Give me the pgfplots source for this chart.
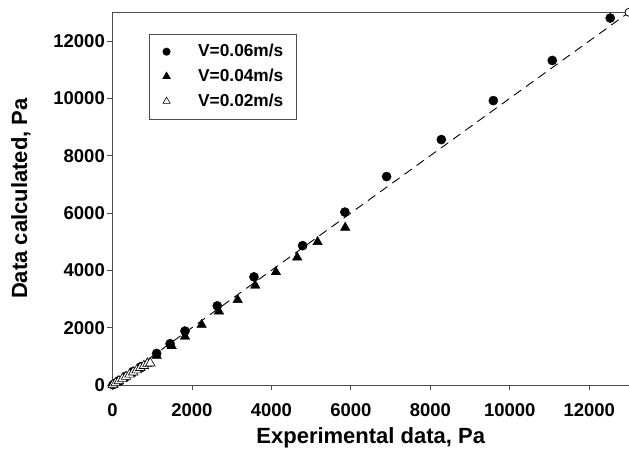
\documentclass[border=0pt]{standalone}
\usepackage{fontspec}
\setmainfont{Liberation Sans}
\usepackage{pgfplots}
\pgfplotsset{compat=1.18}

\begin{document}
\begin{tikzpicture}[x=1pt,y=1pt]
\path[use as bounding box] (0,0) rectangle (629,457);
\begin{axis}[
  at={(112.5pt,72pt)}, anchor=south west,
  scale only axis, width=516.5pt, height=372.7pt,
  xmin=0, xmax=13000, ymin=0, ymax=13000,
  xtick={0,2000,...,12000}, ytick={0,2000,...,12000},
  scaled ticks=false,
  /pgf/number format/assume math mode=true,
  /pgf/number format/set thousands separator={},
  tick label style={font=\fontsize{18.5}{18.5}\selectfont\bfseries},
  xticklabel style={anchor=base, inner sep=0pt, yshift=-25.6pt},
  yticklabel style={anchor=east, inner sep=0pt, xshift=-2pt},
  tick align=outside, major tick length=5.5pt,
  xtick pos=left, ytick pos=left,
  axis line style={line width=0.8pt, black!70},
  tick style={line width=0.8pt, black!70},
  xlabel={Experimental data, Pa},
  ylabel={Data calculated, Pa},
  label style={font=\fontsize{22}{22}\selectfont\bfseries},
  xlabel style={at={(axis description cs:0.5,-0.1420)}, anchor=center},
  ylabel style={at={(axis description cs:-0.1772,0.5)}, anchor=center},
  legend cell align=left,
  legend image code/.code={\draw[#1] plot coordinates {(0pt,0pt)};},
  legend style={
    at={(axis description cs:0.0707,0.9430)}, anchor=north west,
    draw=black!70, line width=0.8pt,
    font=\fontsize{17.3}{17.3}\selectfont\bfseries,
    inner xsep=13.5pt, inner ysep=10pt,
    column sep=28pt, row sep=9.3pt,
    nodes={inner sep=0pt, text height=12.5pt, text depth=3pt},
  },
]

% 1:1 reference line
\addplot[black, line width=0.9pt, dash pattern=on 9pt off 6pt,
  mark=*, mark size=4pt, mark options={solid, fill=white, draw=black, line width=0.8pt},
  forget plot]
  coordinates {(0,0) (13000,13000)};

% V = 0.06 m/s
\addplot[only marks, mark=*, mark size=4.6pt, draw=black, fill=black, forget plot]
  coordinates {
  (25,20) (150,140) (330,300) (520,470) (720,640)
  (1112,1100) (1450,1440) (1824,1880) (2637,2760) (3560,3770)
  (4785,4860) (5849,6030) (6898,7270) (8277,8560) (9585,9920)
  (11069,11320) (12528,12800)
  };

% V = 0.04 m/s
\addplot[only marks, mark=triangle*, mark size=5.5pt, draw=black, fill=black, forget plot]
  coordinates {
  (20,10) (130,110) (280,240) (460,400) (660,570) (880,760)
  (1112,1020) (1489,1360) (1824,1690) (2244,2100) (2679,2570)
  (3149,2970) (3593,3470) (4113,3940) (4649,4450) (5162,4990)
  (5857,5490)
  };

% V = 0.02 m/s
\addplot[only marks, mark=triangle*, mark size=5.5pt,
  mark options={draw=black, fill=white, line width=0.6pt}, forget plot]
  coordinates {
  (10,5) (80,70) (160,140) (250,215) (340,290) (430,370)
  (520,445) (610,520) (700,600) (790,670) (880,745) (950,760)
  };

% legend keys, slightly smaller than the plotted marks
\addlegendimage{only marks, mark=*, mark size=3.6pt, draw=black, fill=black}
\addlegendentry{V=0.06m/s}
\addlegendimage{only marks, mark=triangle*, mark size=4.2pt, draw=black, fill=black}
\addlegendentry{V=0.04m/s}
\addlegendimage{only marks, mark=triangle*, mark size=4.2pt,
  mark options={draw=black, fill=white, line width=0.6pt}}
\addlegendentry{V=0.02m/s}

\end{axis}
\end{tikzpicture}
\end{document}
